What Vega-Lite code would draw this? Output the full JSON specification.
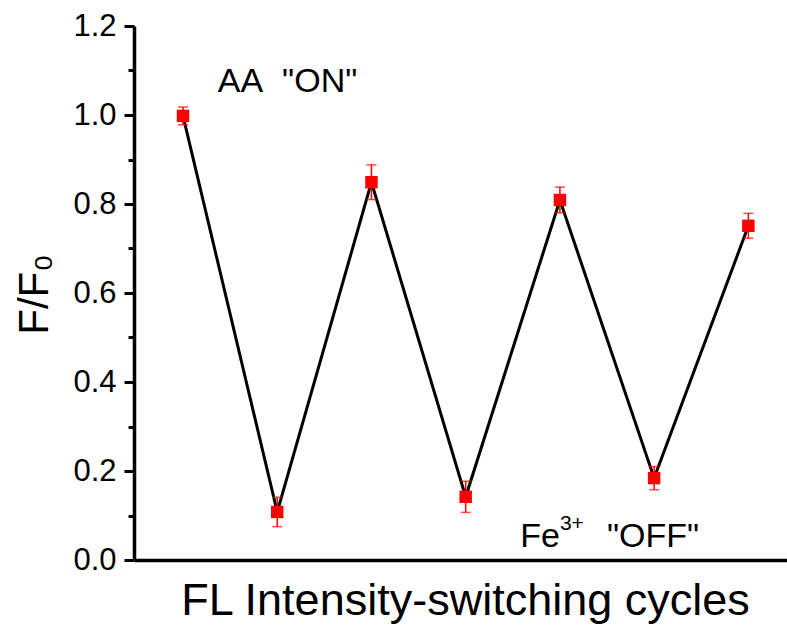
{
  "$schema": "https://vega.github.io/schema/vega-lite/v6.json",
  "autosize": "none",
  "width": 653,
  "height": 534,
  "padding": {"left": 134, "top": 26, "right": 0, "bottom": 66},
  "background": "white",
  "config": {
    "view": {"stroke": null},
    "font": "Liberation Sans"
  },
  "datasets": {
    "cycles": [
      {"cycle": 1, "ratio": 0.998, "err": 0.020},
      {"cycle": 2, "ratio": 0.108, "err": 0.033},
      {"cycle": 3, "ratio": 0.849, "err": 0.039},
      {"cycle": 4, "ratio": 0.142, "err": 0.035},
      {"cycle": 5, "ratio": 0.809, "err": 0.029},
      {"cycle": 6, "ratio": 0.184, "err": 0.026},
      {"cycle": 7, "ratio": 0.751, "err": 0.028}
    ],
    "notes": [
      {"cycle": 1.37, "ratio": 1.052, "note": "AA\u00a0\u00a0\"ON\""},
      {"cycle": 4.578, "ratio": 0.029, "note": "Fe"},
      {"cycle": 5.0, "ratio": 0.068, "note": "3+"},
      {"cycle": 5.5, "ratio": 0.029, "note": "\"OFF\""}
    ]
  },
  "layer": [
    {
      "data": {"name": "cycles"},
      "mark": {"type": "line", "color": "black", "strokeWidth": 3},
      "encoding": {
        "x": {
          "field": "cycle",
          "type": "quantitative",
          "title": "FL Intensity-switching cycles",
          "scale": {"domain": [0.48, 7.41], "nice": false, "zero": false},
          "axis": {
            "orient": "bottom",
            "labels": false,
            "ticks": false,
            "tickSize": 0,
            "grid": false,
            "domainColor": "black",
            "domainWidth": 3.5,
            "titleFont": "Liberation Sans",
            "titleFontSize": 45,
            "titleFontWeight": "normal",
            "titleColor": "black",
            "titleX": 331,
            "titleY": 54,
            "titleAlign": "center",
            "titleBaseline": "alphabetic"
          }
        },
        "y": {
          "field": "ratio",
          "type": "quantitative",
          "title": "F/F₀",
          "scale": {"domain": [0, 1.2], "nice": false},
          "axis": {
            "values": [0, 0.1, 0.2, 0.3, 0.4, 0.5, 0.6, 0.7, 0.8, 0.9, 1.0, 1.1, 1.2],
            "labelExpr": "round(datum.value * 10) % 2 == 0 ? format(datum.value, '.1f') : ''",
            "tickSize": {"condition": {"test": "round(datum.value * 10) % 2 == 1", "value": 6}, "value": 10},
            "tickWidth": 3,
            "tickColor": "black",
            "domainColor": "black",
            "domainWidth": 3.5,
            "grid": false,
            "labelFont": "Liberation Sans",
            "labelFontSize": 31,
            "labelColor": "black",
            "labelPadding": 8,
            "titleFont": "Liberation Sans",
            "titleFontSize": 42,
            "titleFontWeight": "normal",
            "titleColor": "black",
            "titleAngle": -90,
            "titleX": -87,
            "titleY": 268,
            "titleAlign": "center",
            "titleBaseline": "alphabetic"
          }
        }
      }
    },
    {
      "data": {"name": "cycles"},
      "mark": {
        "type": "errorbar",
        "color": "red",
        "rule": {"strokeWidth": 1.5},
        "ticks": {"size": 10, "thickness": 1.5, "color": "red"}
      },
      "encoding": {
        "x": {"field": "cycle", "type": "quantitative", "title": "FL Intensity-switching cycles"},
        "y": {"field": "ratio", "type": "quantitative", "title": "F/F₀"},
        "yError": {"field": "err"}
      }
    },
    {
      "data": {"name": "cycles"},
      "mark": {"type": "point", "shape": "square", "filled": true, "color": "red", "size": 155, "opacity": 1},
      "encoding": {
        "x": {"field": "cycle", "type": "quantitative", "title": "FL Intensity-switching cycles"},
        "y": {"field": "ratio", "type": "quantitative", "title": "F/F₀"}
      }
    },
    {
      "mark": {"type": "rule", "color": "black", "strokeWidth": 3.5},
      "encoding": {"y": {"datum": 1.2, "type": "quantitative", "title": "F/F₀"}}
    },
    {
      "data": {"name": "notes"},
      "transform": [{"filter": "datum.note !== '3+'"}],
      "mark": {"type": "text", "align": "left", "baseline": "alphabetic", "font": "Liberation Sans", "fontSize": 34, "color": "black"},
      "encoding": {
        "x": {"field": "cycle", "type": "quantitative", "title": "FL Intensity-switching cycles"},
        "y": {"field": "ratio", "type": "quantitative", "title": "F/F₀"},
        "text": {"field": "note"}
      }
    },
    {
      "data": {"name": "notes"},
      "transform": [{"filter": "datum.note === '3+'"}],
      "mark": {"type": "text", "align": "left", "baseline": "alphabetic", "font": "Liberation Sans", "fontSize": 21, "color": "black"},
      "encoding": {
        "x": {"field": "cycle", "type": "quantitative", "title": "FL Intensity-switching cycles"},
        "y": {"field": "ratio", "type": "quantitative", "title": "F/F₀"},
        "text": {"field": "note"}
      }
    }
  ]
}
